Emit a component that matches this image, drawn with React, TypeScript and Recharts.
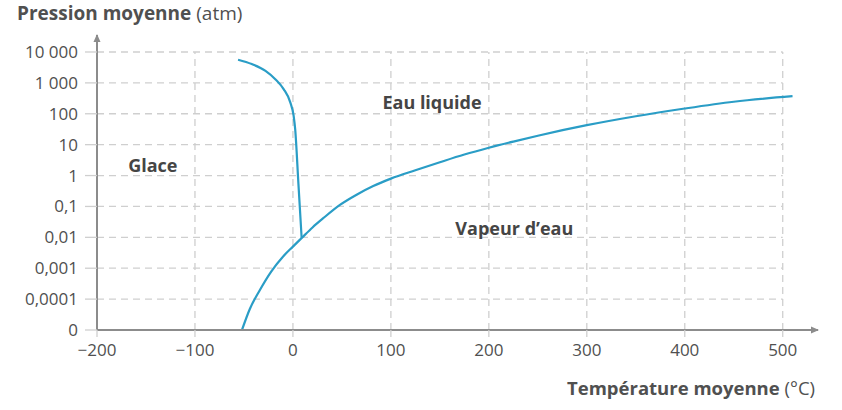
import React from 'react'
import { LineChart, Line, XAxis, YAxis, ReferenceLine, ReferenceDot } from 'recharts'

// Pressure ticks: evenly spaced, one step per decade (index 0..9)
const pressureLabels = ['0', '0,0001', '0,001', '0,01', '0,1', '1', '10', '100', '1 000', '10 000']
const pressureTicks = [0, 1, 2, 3, 4, 5, 6, 7, 8, 9]
const temperatureTicks = [-200, -100, 0, 100, 200, 300, 400, 500]

// Sublimation + vaporization curve (temperature °C, pressure index)
const vapourTemp = [-52, -44, -34, -22, -10, 0, 9, 20, 31, 48, 65, 82, 100, 125, 150, 175, 200, 225, 250, 300, 350, 400, 450, 510]
const vapourLevel = [0, 0.68, 1.28, 1.9, 2.38, 2.7, 2.98, 3.32, 3.62, 4.05, 4.38, 4.66, 4.9, 5.17, 5.43, 5.68, 5.9, 6.1, 6.29, 6.63, 6.92, 7.17, 7.39, 7.57]

// Fusion curve
const fusionTemp = [-56, -42, -28, -18, -9.5, -2.7, 0.7, 2.3, 5.6, 8.9]
const fusionLevel = [8.75, 8.61, 8.39, 8.12, 7.8, 7.37, 6.94, 6.5, 4.74, 2.98]

// Region labels
const regions = [
  { name: 'Glace', x: -143, y: 5.34 },
  { name: 'Eau liquide', x: 142, y: 7.38 },
  { name: 'Vapeur d’eau', x: 226, y: 3.3 },
]

const vapourData = vapourTemp.map((x, i) => ({ x, y: vapourLevel[i] }))
const fusionData = fusionTemp.map((x, i) => ({ x, y: fusionLevel[i] }))

const FONT = '"Open Sans", sans-serif'
const TEXT = '#505050'
const AXIS = '#8c8c8c'
const GRID = '#cfcfcf'
const CURVE = '#2a9dc6'

const X_MAX = 536
const Y_MAX = 9.55

const formatTemp = (v: number) => (v < 0 ? `\u2212${Math.abs(v)}` : `${v}`)

export default function App() {
  return (
    <div style={{ position: 'absolute', left: 0, top: 0, width: 842, height: 410, background: '#fff', fontFamily: FONT }}>
      <div style={{ position: 'absolute', left: 17, top: 0, fontSize: 19, color: TEXT, whiteSpace: 'nowrap' }}>
        <span style={{ fontWeight: 700 }}>Pression moyenne</span> (atm)
      </div>
      <div style={{ position: 'absolute', right: 27, top: 375, fontSize: 18.5, color: TEXT, whiteSpace: 'nowrap' }}>
        <span style={{ fontWeight: 700 }}>Température moyenne</span> (°C)
      </div>
      <LineChart width={842} height={410} margin={{ top: 35, right: 24, left: 0, bottom: 50 }}>
        <XAxis
          type="number"
          dataKey="x"
          domain={[-200, X_MAX]}
          ticks={temperatureTicks}
          tickFormatter={formatTemp}
          allowDataOverflow
          height={30}
          axisLine={{ stroke: AXIS, strokeWidth: 2 }}
          tickLine={{ stroke: GRID, strokeWidth: 1.3 }}
          tickSize={7}
          tickMargin={7}
          tick={{ fill: TEXT, fontSize: 17, fontFamily: FONT }}
        />
        <YAxis
          type="number"
          dataKey="y"
          domain={[0, Y_MAX]}
          ticks={pressureTicks}
          tickFormatter={(v: number) => pressureLabels[v]}
          allowDataOverflow
          width={97}
          axisLine={{ stroke: AXIS, strokeWidth: 2 }}
          tickLine={{ stroke: GRID, strokeWidth: 1.3 }}
          tickSize={12}
          tickMargin={7}
          tick={{ fill: TEXT, fontSize: 17, fontFamily: FONT }}
        />

        {/* Dashed grid, limited to the data range */}
        {pressureTicks.slice(1).map((v) => (
          <ReferenceLine
            key={`h${v}`}
            segment={[{ x: -200, y: v }, { x: 500, y: v }]}
            stroke={GRID}
            strokeWidth={1.3}
            strokeDasharray="7 5"
          />
        ))}
        {temperatureTicks.slice(1).map((v) => (
          <ReferenceLine
            key={`v${v}`}
            segment={[{ x: v, y: 0 }, { x: v, y: 9 }]}
            stroke={GRID}
            strokeWidth={1.3}
            strokeDasharray="7 5"
          />
        ))}

        {/* Curves */}
        <Line
          data={vapourData}
          dataKey="y"
          type="monotone"
          stroke={CURVE}
          strokeWidth={2.2}
          dot={false}
          isAnimationActive={false}
        />
        <Line
          data={fusionData}
          dataKey="y"
          type="monotone"
          stroke={CURVE}
          strokeWidth={2.2}
          dot={false}
          isAnimationActive={false}
        />

        {/* Axis arrows */}
        <ReferenceDot
          x={X_MAX}
          y={0}
          ifOverflow="visible"
          shape={(p: any) => (
            <path d={`M${p.cx + 1},${p.cy} L${p.cx - 7},${p.cy - 3.5} L${p.cx - 7},${p.cy + 3.5} Z`} fill={AXIS} />
          )}
        />
        <ReferenceDot
          x={-200}
          y={Y_MAX}
          ifOverflow="visible"
          shape={(p: any) => (
            <path d={`M${p.cx},${p.cy - 1} L${p.cx - 3.5},${p.cy + 7} L${p.cx + 3.5},${p.cy + 7} Z`} fill={AXIS} />
          )}
        />

        {/* Region labels */}
        {regions.map((r) => (
          <ReferenceDot
            key={r.name}
            x={r.x}
            y={r.y}
            ifOverflow="visible"
            shape={(p: any) => (
              <text
                x={p.cx}
                y={p.cy}
                textAnchor="middle"
                dominantBaseline="central"
                fontFamily={FONT}
                fontSize={18}
                fontWeight={700}
                fill="#454545"
              >
                {r.name}
              </text>
            )}
          />
        ))}
      </LineChart>
    </div>
  )
}
